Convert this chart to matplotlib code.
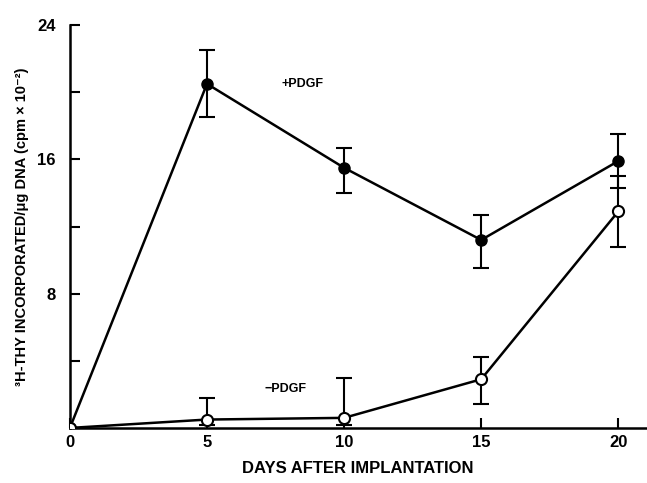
import matplotlib
matplotlib.use("Agg")
import matplotlib.pyplot as plt

plt.rcParams["font.family"] = ["Liberation Sans", "DejaVu Sans"]
plt.rcParams["font.weight"] = "bold"

days = [0, 5, 10, 15, 20]

# +PDGF (filled circles)
plus_mean = [0.0, 20.5, 15.5, 11.2, 15.9]
plus_lo = [0.0, 18.5, 14.0, 9.5, 14.3]
plus_hi = [0.0, 22.5, 16.7, 12.7, 17.5]

# -PDGF (open circles)
minus_mean = [0.0, 0.5, 0.6, 2.9, 12.9]
minus_lo = [0.0, 0.2, 0.2, 1.4, 10.8]
minus_hi = [0.0, 1.8, 3.0, 4.2, 15.0]


def yerr(mean, lo, hi):
    return [[m - l for m, l in zip(mean, lo)], [h - m for m, h in zip(mean, hi)]]


fig = plt.figure(figsize=(6.47, 4.83), dpi=100)
ax = fig.add_axes([0.108, 0.114, 0.89, 0.834])

ax.errorbar(days, plus_mean, yerr=yerr(plus_mean, plus_lo, plus_hi),
            color="black", lw=1.8, marker="o", ms=8, mfc="black", mec="black",
            ecolor="black", elinewidth=1.5, capsize=6, capthick=1.5, zorder=3)
ax.errorbar(days, minus_mean, yerr=yerr(minus_mean, minus_lo, minus_hi),
            color="black", lw=1.8, marker="o", ms=8, mfc="white", mec="black",
            mew=1.5, ecolor="black", elinewidth=1.5, capsize=6, capthick=1.5, zorder=3)

ax.text(7.7, 20.5, "+PDGF", fontsize=9, fontweight="bold", ha="left", va="center")
ax.text(7.1, 2.3, "\u2212PDGF", fontsize=9, fontweight="bold", ha="left", va="center")

ax.set_xlim(0, 21)
ax.set_ylim(0, 24)
ax.set_xticks([0, 5, 10, 15, 20])
ax.set_yticks([8, 16, 24])
ax.set_yticks([4, 12, 20], minor=True)
ax.tick_params(axis="both", which="both", direction="in", length=7, width=1.5,
               labelsize=12, pad=5)
ax.tick_params(axis="y", pad=10)
for lab in ax.get_xticklabels() + ax.get_yticklabels():
    lab.set_fontweight("bold")

ax.spines["top"].set_visible(False)
ax.spines["right"].set_visible(False)
ax.spines["left"].set_linewidth(1.8)
ax.spines["bottom"].set_linewidth(1.8)

ax.set_xlabel("DAYS AFTER IMPLANTATION", fontsize=12, fontweight="bold", labelpad=8)
ax.set_ylabel("\u00b3H-THY INCORPORATED/\u03bcg DNA (cpm \u00d7 10\u207b\u00b2)",
              fontsize=10.5, fontweight="bold", labelpad=6)

fig.savefig("out.png", dpi=100)
